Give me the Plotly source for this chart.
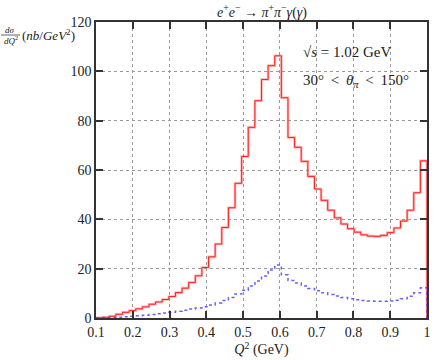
import numpy as np
import plotly.graph_objects as go

# Binning: 50 bins from Q^2 = 0.1 to 1.0
q2_lo, q2_hi, n_bins = 0.1, 1.0, 50

# dσ/dQ² (nb/GeV²), full (red) histogram
red_values = [0.1, 0.3, 0.7, 1.5, 2.3, 3.0, 3.7, 4.5, 5.6, 6.5,
              7.5, 8.7, 10.3, 12.1, 14.4, 17.1, 20.5, 24.8, 30.0, 36.7,
              44.7, 54.6, 65.5, 77.3, 88.1, 96.7, 102.3, 106.3, 89.3, 73.2,
              69.2, 63.5, 57.4, 52.3, 47.7, 43.7, 40.6, 38.1, 36.2, 34.8,
              33.7, 33.2, 33.1, 33.5, 34.6, 36.5, 39.3, 43.7, 50.8, 63.7]

# second (blue dotted) histogram
blue_values = [0.05, 0.1, 0.2, 0.3, 0.5, 0.7, 0.9, 1.1, 1.4, 1.7,
               2.0, 2.3, 2.7, 3.1, 3.6, 4.1, 4.6, 5.3, 6.1, 7.1,
               8.3, 9.7, 11.3, 13.0, 15.0, 17.0, 19.5, 21.5, 17.5, 15.2,
               14.2, 13.0, 12.0, 11.0, 10.2, 9.5, 8.9, 8.3, 7.8, 7.4,
               7.1, 6.9, 6.8, 6.8, 6.9, 7.2, 7.8, 8.8, 10.2, 12.3]

x_ticks = [0.1, 0.2, 0.3, 0.4, 0.5, 0.6, 0.7, 0.8, 0.9, 1.0]
x_tick_labels = ["0.1", "0.2", "0.3", "0.4", "0.5", "0.6", "0.7", "0.8", "0.9", "1"]
y_ticks = [0, 20, 40, 60, 80, 100, 120]

edges = np.linspace(q2_lo, q2_hi, n_bins + 1)


def step_xy(vals):
    xs = [edges[0]] + list(edges[:-1]) + [edges[-1], edges[-1]]
    ys = [0] + list(vals) + [vals[-1], 0]
    return xs, ys


SERIF = "Liberation Serif, DejaVu Serif, serif"
TXT = "#222"

fig = go.Figure()
rx, ry = step_xy(red_values)
bx, by = step_xy(blue_values)

fig.add_trace(go.Scatter(x=rx, y=ry, mode="lines", line_shape="hv",
                         line=dict(color="rgba(255,110,110,0.5)", width=2.6),
                         hoverinfo="skip", showlegend=False, cliponaxis=False))
fig.add_trace(go.Scatter(x=rx, y=ry, mode="lines", line_shape="hv",
                         line=dict(color="#ff2020", width=1),
                         showlegend=False, cliponaxis=False))
fig.add_trace(go.Scatter(x=bx, y=by, mode="lines", line_shape="hv",
                         line=dict(color="rgba(70,70,255,0.85)", width=1.5, dash="3px,3px"),
                         showlegend=False, cliponaxis=False))

axis_common = dict(showline=True, linecolor="#333", linewidth=1.5, mirror="ticks",
                   ticks="inside", ticklen=7, tickwidth=1.5, tickcolor="#333",
                   showgrid=True, gridcolor="#9a9a9a", griddash="dot", gridwidth=1,
                   zeroline=False, tickfont=dict(family=SERIF, size=14, color=TXT))

fig.update_xaxes(range=[q2_lo, q2_hi], tickvals=x_ticks, ticktext=x_tick_labels,
                 title=dict(text="<i>Q</i><sup>2</sup> (GeV)", font=dict(family=SERIF, size=14, color=TXT),
                            standoff=2),
                 **axis_common)
fig.update_yaxes(range=[0, 120], tickvals=y_ticks, **axis_common)

annotations = [
    dict(text="<i>e</i><sup>+</sup><i>e</i><sup>−</sup> → <i>π</i><sup>+</sup><i>π</i><sup>−</sup><i>γ</i>(<i>γ</i>)",
         xref="paper", yref="paper", x=0.5, y=1.0, yshift=11, xanchor="center", yanchor="middle",
         showarrow=False, font=dict(family=SERIF, size=14, color=TXT)),
    dict(text="√<i>s</i> = 1.02 GeV", xref="paper", yref="paper", x=0.618, y=0.899,
         xanchor="left", yanchor="middle", showarrow=False,
         font=dict(family=SERIF, size=15, color=TXT)),
    dict(text="30°\u2009 &lt; \u2009<i>θ</i><sub><i>π</i></sub>\u2009 &lt; \u2009150°", xref="paper", yref="paper",
         x=0.618, y=0.80, xanchor="left", yanchor="middle", showarrow=False,
         font=dict(family=SERIF, size=15, color=TXT)),
    # y-axis label: fraction dσ/dQ² followed by (nb/GeV²)
    dict(text="<i>dσ</i>", xref="paper", yref="paper", x=0, xshift=-86, y=1.0, yshift=-8,
         xanchor="center", yanchor="middle", showarrow=False,
         font=dict(family=SERIF, size=9, color=TXT)),
    dict(text="<i>dQ</i><sup>2</sup>", xref="paper", yref="paper", x=0, xshift=-85, y=1.0, yshift=-18,
         xanchor="center", yanchor="middle", showarrow=False,
         font=dict(family=SERIF, size=9, color=TXT)),
    dict(text="(<i>nb</i>/<i>GeV</i><sup>2</sup>)", xref="paper", yref="paper", x=0, xshift=-76, y=1.0, yshift=-13,
         xanchor="left", yanchor="middle", showarrow=False,
         font=dict(family=SERIF, size=13, color=TXT)),
]

fig.update_layout(
    width=436, height=360,
    margin=dict(l=96, r=5, t=22, b=42),
    plot_bgcolor="white", paper_bgcolor="white",
    annotations=annotations,
    hovermode=False,
)
# fraction bar for the y label
fig.add_shape(type="line", xref="paper", yref="paper", xsizemode="pixel", xanchor=0,
              ysizemode="pixel", yanchor=1.0,
              x0=-95, x1=-76, y0=-13, y1=-13,
              line=dict(color=TXT, width=0.7))

fig.write_html("out.html", config={"displayModeBar": False},
               post_script="document.body.style.margin='0';")
